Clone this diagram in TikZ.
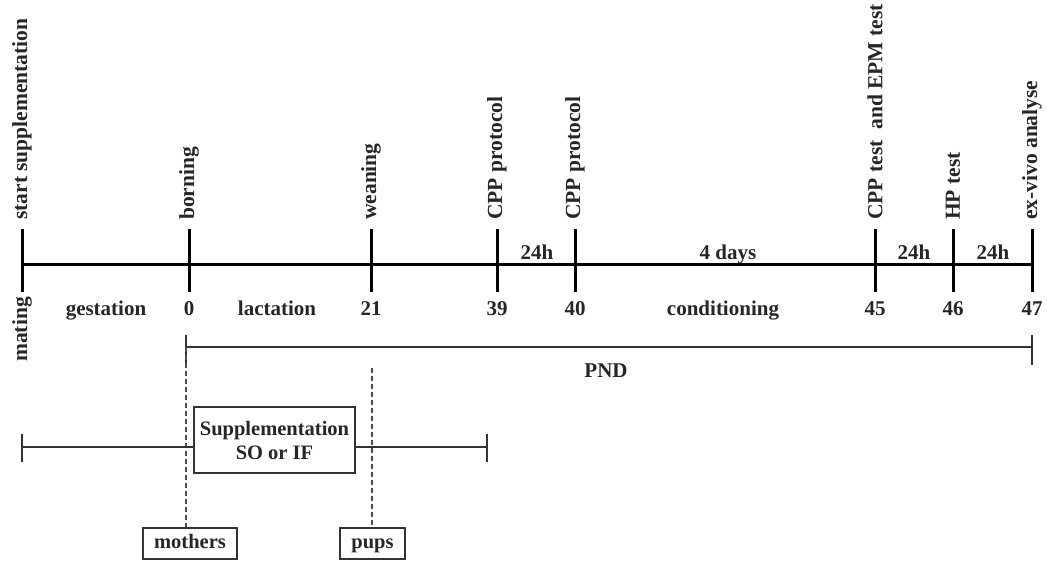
\documentclass[tikz,border=0pt]{standalone}
\usepackage{fontspec}
\setmainfont{Liberation Serif}
\usetikzlibrary{calc}
\begin{document}
\begin{tikzpicture}[x=1pt,y=-1pt,
  lbl/.style={font=\fontsize{21}{24}\selectfont\bfseries, inner sep=0pt, text=black!85},
  vlbl/.style={lbl, font=\fontsize{21.5}{24}\selectfont\bfseries, rotate=90, anchor=west},
  blbl/.style={lbl, anchor=base},
  mainln/.style={line width=3pt},
  thinln/.style={line width=1.4pt, black!80},
  dashln/.style={line width=1.3pt, black!70, dash pattern=on 5pt off 3pt},
  boxnode/.style={lbl, font=\fontsize{20.5}{24}\selectfont\bfseries, draw=black!80, line width=1.4pt, align=center, fill=white},
  smallbox/.style={boxnode, text height=14pt, text depth=4.5pt, minimum height=31pt}
]
\useasboundingbox (0,0) rectangle (1047,563);

% main timeline coordinates
\coordinate (t0) at (22,264);
\coordinate (t1) at (189,264);
\coordinate (t2) at (371,264);
\coordinate (t3) at (497,264);
\coordinate (t4) at (575,264);
\coordinate (t5) at (875,264);
\coordinate (t6) at (953,264);
\coordinate (t7) at (1032,264);

\draw[mainln] (t0) -- (t7);
\foreach \t in {t0,t1,t2,t3,t4,t5,t6,t7}{
  \draw[mainln] ($(\t)+(0,-35)$) -- ($(\t)+(0,28)$);
}

% labels above
\node[vlbl] (lstart) at (22,220) {start supplementation};
\node[vlbl] (lborn) at (189,220) {borning};
\node[vlbl] (lwean) at (371,220) {weaning};
\node[vlbl] (lcpp1) at (497,220) {CPP protocol};
\node[vlbl] (lcpp2) at (575,220) {CPP protocol};
\node[vlbl] (lcppt) at (875,220) {CPP test\ \ and EPM test};
\node[vlbl] (lhp) at (953,220) {HP test};
\node[vlbl] (lexv) at (1032,220) {ex-vivo analyse};

% labels on/above the line
\node[blbl] (h1) at (537,259) {24h};
\node[blbl] (d4) at (728,259) {4 days};
\node[blbl] (h2) at (914,259) {24h};
\node[blbl] (h3) at (993,259) {24h};

% labels below
\node[lbl, font=\fontsize{21.5}{24}\selectfont\bfseries, rotate=90, anchor=east] (lmating) at (22,297) {mating};
\node[blbl] (lgest) at (106,315) {gestation};
\node[blbl] (n0) at (189,315) {0};
\node[blbl] (llact) at (277,315) {lactation};
\node[blbl] (n21) at (371,315) {21};
\node[blbl] (n39) at (497,315) {39};
\node[blbl] (n40) at (575,315) {40};
\node[blbl] (lcond) at (723,315) {conditioning};
\node[blbl] (n45) at (875,315) {45};
\node[blbl] (n46) at (953,315) {46};
\node[blbl] (n47) at (1032,315) {47};

% PND bracket
\coordinate (pL) at (186,347);
\coordinate (pR) at (1032,347);
\draw[thinln] (pL) -- (pR);
\draw[thinln] ($(pL)+(0,-12)$) -- ($(pL)+(0,16)$);
\draw[thinln] ($(pR)+(0,-12)$) -- ($(pR)+(0,18)$);
\node[blbl] (pnd) at (606,377) {PND};

% boxes
\node[smallbox, minimum width=94pt] (moth) at (190,543.5) {mothers};
\node[smallbox, minimum width=65pt] (pups) at (372.5,543.5) {pups};

% dashed lines
\coordinate (pupsTop) at (372,368);
\draw[dashln] (pL) -- (pL |- moth.north);
\draw[dashln] (pupsTop) -- (pupsTop |- pups.north);

% supplementation bar
\coordinate (sL) at (22,447);
\coordinate (sR) at (487,447);
\draw[thinln] (sL) -- (sR);
\draw[thinln] ($(sL)+(0,-13)$) -- ($(sL)+(0,15)$);
\draw[thinln] ($(sR)+(0,-13)$) -- ($(sR)+(0,15)$);
\node[boxnode, minimum width=161pt, minimum height=66pt] (supp) at (274.5,440) {Supplementation\\SO or IF};

\end{tikzpicture}
\end{document}
